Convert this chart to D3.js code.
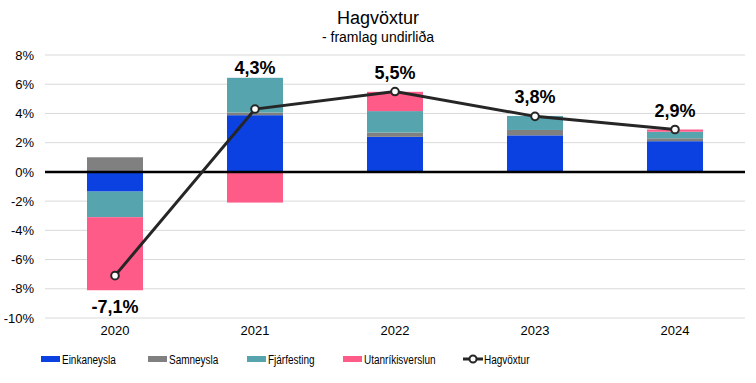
<!DOCTYPE html>
<html><head><meta charset="utf-8">
<script src="https://cdn.jsdelivr.net/npm/d3@7"></script>
<style>body{margin:0;background:#fff;} text{font-family:"Liberation Sans",Arial,sans-serif;}</style>
</head><body><svg id="c" width="756" height="383"></svg>
<script>
const years = ["2020","2021","2022","2023","2024"];
const seriesNames = ["Einkaneysla","Samneysla","Fjárfesting","Utanríkisverslun"];
const einkaneysla = [-1.35, 3.88, 2.40, 2.50, 2.10];
const samneysla   = [1.00, 0.18, 0.29, 0.37, 0.20];
const fjarfesting = [-1.75, 2.38, 1.47, 0.96, 0.45];
const utanrikis   = [-5.00, -2.10, 1.32, 0.00, 0.15];
const hagvoxtur   = [-7.1, 4.3, 5.5, 3.8, 2.9];
const growthLabels = ["-7,1%","4,3%","5,5%","3,8%","2,9%"];
const yTicks = [8,6,4,2,0,-2,-4,-6,-8,-10];
const colors = ["#0B41E0","#808080","#56A4AE","#FF5B88"];

const svg = d3.select("#c");
const x = d3.scaleBand().domain(years).range([45,745]).paddingInner(0.6).paddingOuter(0.3);
const y = d3.scaleLinear().domain([-10,8]).range([318,55]);

// grid
svg.append("g").selectAll("line").data(yTicks.filter(t=>t!==0)).join("line")
  .attr("x1",45).attr("x2",745).attr("y1",d=>y(d)).attr("y2",d=>y(d))
  .attr("stroke","#d9d9d9").attr("stroke-width",1);

// y axis labels
const yAxis = d3.axisLeft(y).tickValues(yTicks).tickFormat(d=>d+"%").tickSize(0).tickPadding(0);
const ya = svg.append("g").attr("transform","translate(34,0)").call(yAxis);
ya.select(".domain").remove();
ya.selectAll("text").attr("font-size",13).attr("fill","#000").attr("font-family","Liberation Sans, Arial, sans-serif");

// stacked data
const rows = years.map((yr,i)=>({year:yr, Einkaneysla:einkaneysla[i], Samneysla:samneysla[i], "Fjárfesting":fjarfesting[i], "Utanríkisverslun":utanrikis[i]}));
const stack = d3.stack().keys(seriesNames).offset(d3.stackOffsetDiverging);
const layers = stack(rows);

svg.append("g").selectAll("g").data(layers).join("g").attr("fill",(d,i)=>colors[i])
  .selectAll("rect").data(d=>d).join("rect")
  .attr("x",d=>x(d.data.year)).attr("width",x.bandwidth())
  .attr("y",d=>y(Math.max(d[0],d[1]))).attr("height",d=>Math.abs(y(d[0])-y(d[1])));

// zero line
svg.append("line").attr("x1",45).attr("x2",745).attr("y1",y(0)).attr("y2",y(0))
  .attr("stroke","#000").attr("stroke-width",2.5);

// x labels
const xa = svg.append("g").attr("transform","translate(0,326)").call(d3.axisBottom(x).tickSize(0).tickPadding(0));
xa.select(".domain").remove();
xa.selectAll("text").attr("font-size",13).attr("fill","#000").attr("font-family","Liberation Sans, Arial, sans-serif").attr("dy","0.71em");

// line
const cx = d=>x(d)+x.bandwidth()/2;
const line = d3.line().x((d,i)=>cx(years[i])).y(d=>y(d));
svg.append("path").datum(hagvoxtur).attr("d",line).attr("fill","none").attr("stroke","#262626").attr("stroke-width",3);
svg.append("g").selectAll("circle").data(hagvoxtur).join("circle")
  .attr("cx",(d,i)=>cx(years[i])).attr("cy",d=>y(d)).attr("r",3.8)
  .attr("fill","#fff").attr("stroke","#262626").attr("stroke-width",2);

// labels
const posTop = years.map((yr,i)=>d3.sum([einkaneysla[i],samneysla[i],fjarfesting[i],utanrikis[i]].filter(v=>v>0)));
const negBot = years.map((yr,i)=>d3.sum([einkaneysla[i],samneysla[i],fjarfesting[i],utanrikis[i]].filter(v=>v<0)));
svg.append("g").selectAll("text").data(hagvoxtur).join("text")
  .attr("x",(d,i)=>cx(years[i]))
  .attr("y",(d,i)=> d<0 ? y(negBot[i])+23 : Math.min(y(d)-13, y(posTop[i])-4))
  .attr("text-anchor","middle").attr("font-size",18).attr("font-weight","bold").attr("fill","#000")
  .text((d,i)=>growthLabels[i]);

// title
svg.append("text").attr("x",378).attr("y",24).attr("text-anchor","middle").attr("font-size",18).attr("fill","#000").text("Hagvöxtur");
svg.append("text").attr("x",378).attr("y",42).attr("text-anchor","middle").attr("font-size",14).attr("fill","#000").text("- framlag undirliða");

// legend
const legX = [41,148,247,343];
const lg = svg.append("g");
seriesNames.forEach((n,i)=>{
  lg.append("rect").attr("x",legX[i]).attr("y",356).attr("width",19).attr("height",6).attr("fill",colors[i]);
  lg.append("text").attr("transform",`translate(${legX[i]+21},364) scale(0.74,1)`).attr("font-size",13.5).attr("fill","#000").text(n);
});
lg.append("line").attr("x1",463).attr("x2",483).attr("y1",359).attr("y2",359).attr("stroke","#262626").attr("stroke-width",3);
lg.append("circle").attr("cx",473).attr("cy",359).attr("r",3.5).attr("fill","#fff").attr("stroke","#262626").attr("stroke-width",2);
lg.append("text").attr("transform","translate(484,364) scale(0.74,1)").attr("font-size",13.5).attr("fill","#000").text("Hagvöxtur");
</script></body></html>
